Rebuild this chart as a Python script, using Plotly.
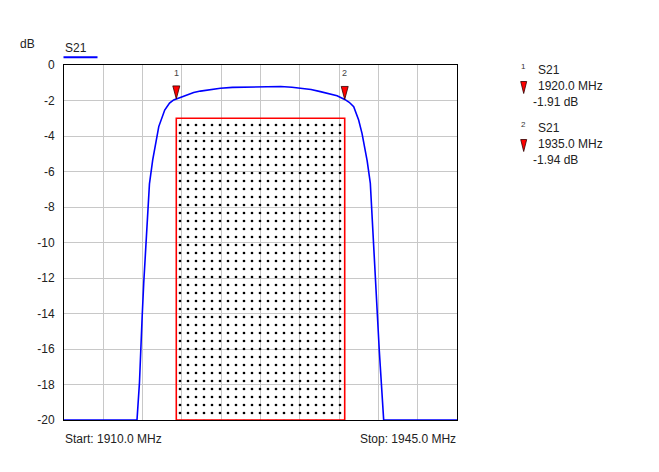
import plotly.graph_objects as go

# ---------------- data ----------------
freq_mhz = [1910.0, 1916.5, 1916.72, 1916.81, 1916.96, 1917.1, 1917.25, 1917.43, 1917.61,
            1917.9, 1918.14, 1918.44, 1918.97, 1919.4, 1919.77, 1920.0, 1920.37, 1921.0,
            1921.55, 1922.15, 1923.0, 1923.93, 1925.0, 1926.5, 1927.5, 1929.3, 1930.3,
            1931.05, 1932.0, 1932.83, 1933.6, 1934.32, 1935.0, 1935.4, 1935.8, 1936.24,
            1936.54, 1936.84, 1937.0, 1937.28, 1937.43, 1937.58, 1937.79, 1937.93, 1938.08,
            1938.26, 1938.47, 1945.0]
s21_db = [-20.0, -20.0, -17.9, -16.1, -14.2, -12.3, -10.4, -8.55, -6.7,
          -5.35, -4.4, -3.47, -2.54, -2.15, -1.97, -1.91, -1.84, -1.65,
          -1.55, -1.47, -1.38, -1.31, -1.26, -1.23, -1.21, -1.21, -1.25,
          -1.3, -1.38, -1.5, -1.6, -1.73, -1.94, -2.1, -2.35, -3.1,
          -3.85, -4.79, -5.4, -6.66, -8.55, -10.4, -12.3, -14.2, -16.1,
          -17.9, -20.0, -20.0]

marker_ids = ["1", "2"]
marker_freq = [1920.0, 1935.0]
marker_db = [-1.91, -1.94]

mask_freq = [1920.0, 1935.0]
mask_db = [-20.0, -3.0]

f_start, f_stop = 1910.0, 1945.0
f_div = 3.5
y_ticks = [0, -2, -4, -6, -8, -10, -12, -14, -16, -18, -20]
y_tick_labels = [str(v) for v in y_ticks]
trace_name = "S21"

# ---------------- layout geometry ----------------
W, H = 659, 472
L, R, T, B = 64, 202, 65, 52
PW, PH = W - L - R, H - T - B


def px(x):
    return (x - L) / PW


def py(y):
    return (H - B - y) / PH


FONT = "Liberation Sans, Arial, sans-serif"
RED = "#ff0000"
BLUE = "#0000ff"

fig = go.Figure()

# mask rectangle with dotted fill
fig.add_trace(go.Scatter(
    x=[mask_freq[0], mask_freq[0], mask_freq[1], mask_freq[1], mask_freq[0]],
    y=[mask_db[0], mask_db[1], mask_db[1], mask_db[0], mask_db[0]],
    mode="lines", fill="toself",
    fillcolor="rgba(0,0,0,0)",
    fillpattern=dict(shape=".", size=8, solidity=0.09, fgcolor="black", fgopacity=1,
                     bgcolor="rgba(0,0,0,0)", fillmode="overlay"),
    line=dict(color=RED, width=1.6),
    hoverinfo="skip", showlegend=False,
))

# S21 trace
fig.add_trace(go.Scatter(
    x=freq_mhz, y=s21_db, mode="lines",
    line=dict(color=BLUE, width=1.6),
    name=trace_name, showlegend=False,
))

shapes = []
annotations = []

# markers on trace (triangles with tip at the point)
for mid, mf, md in zip(marker_ids, marker_freq, marker_db):
    shapes.append(dict(
        type="path", xref="x", yref="y",
        xsizemode="pixel", ysizemode="pixel",
        xanchor=mf, yanchor=md,
        path="M -3.5 13 L 3.5 13 L 0 0 Z",
        fillcolor=RED, line=dict(color="#300000", width=0.8), layer="above",
    ))
    annotations.append(dict(
        x=mf, y=md, xref="x", yref="y", text=mid, showarrow=False,
        yshift=26, xshift=0, font=dict(family=FONT, size=9, color="#444"),
    ))

# readout block on the right
block_y = [66, 124]
for i, (mid, mf, md) in enumerate(zip(marker_ids, marker_freq, marker_db)):
    y0 = block_y[i]
    annotations.append(dict(x=px(523.5), y=py(y0), xref="paper", yref="paper",
                            text=mid, showarrow=False, xanchor="center", yanchor="middle",
                            font=dict(family=FONT, size=8, color="#333")))
    annotations.append(dict(x=px(536), y=py(y0 + 4), xref="paper", yref="paper",
                            text=trace_name, showarrow=False, xanchor="left", yanchor="middle",
                            font=dict(family=FONT, size=12, color="#222")))
    annotations.append(dict(x=px(536), y=py(y0 + 20), xref="paper", yref="paper",
                            text=f"{mf:.1f} MHz", showarrow=False, xanchor="left", yanchor="middle",
                            font=dict(family=FONT, size=12, color="#222")))
    annotations.append(dict(x=px(531), y=py(y0 + 36), xref="paper", yref="paper",
                            text=f"{md:.2f} dB", showarrow=False, xanchor="left", yanchor="middle",
                            font=dict(family=FONT, size=12, color="#222")))
    tx, ty_top, ty_bot = 523.7, y0 + 15.5, y0 + 27.5
    shapes.append(dict(
        type="path", xref="paper", yref="paper",
        path=(f"M {px(tx-3):.5f} {py(ty_top):.5f} L {px(tx+3):.5f} {py(ty_top):.5f} "
              f"L {px(tx):.5f} {py(ty_bot):.5f} Z"),
        fillcolor=RED, line=dict(color="#300000", width=0.8),
    ))

# axis unit and legend
annotations.append(dict(x=px(27), y=py(43.5), xref="paper", yref="paper", text="dB",
                        showarrow=False, xanchor="center", yanchor="middle",
                        font=dict(family=FONT, size=12, color="#222")))
annotations.append(dict(x=px(63), y=py(47.5), xref="paper", yref="paper", text=trace_name,
                        showarrow=False, xanchor="left", yanchor="middle",
                        font=dict(family=FONT, size=12, color="#222")))
shapes.append(dict(type="line", xref="paper", yref="paper",
                   x0=px(63.5), x1=px(97.5), y0=py(57.3), y1=py(57.3),
                   line=dict(color=BLUE, width=2)))

# start / stop labels
annotations.append(dict(x=0, y=py(439), xref="paper", yref="paper",
                        text=f"Start: {f_start:.1f} MHz", showarrow=False,
                        xanchor="left", yanchor="middle", xshift=-1,
                        font=dict(family=FONT, size=12, color="#222")))
annotations.append(dict(x=1, y=py(439), xref="paper", yref="paper",
                        text=f"Stop: {f_stop:.1f} MHz", showarrow=False,
                        xanchor="right", yanchor="middle", xshift=1,
                        font=dict(family=FONT, size=12, color="#222")))

fig.update_layout(
    width=W, height=H,
    margin=dict(l=L, r=R, t=T, b=B, pad=0),
    paper_bgcolor="white", plot_bgcolor="white",
    font=dict(family=FONT, size=12, color="#222"),
    shapes=shapes, annotations=annotations,
    showlegend=False,
)
fig.update_xaxes(
    range=[f_start, f_stop], tick0=f_start, dtick=f_div, tickmode="linear",
    showticklabels=False, ticks="",
    showgrid=True, gridcolor="#c8c8c8", gridwidth=1,
    showline=True, linecolor="black", linewidth=1, mirror=True, zeroline=False,
)
fig.update_yaxes(
    range=[y_ticks[-1], y_ticks[0]], tickmode="array",
    tickvals=y_ticks, ticktext=y_tick_labels, ticks="",
    ticklabelstandoff=6,
    tickfont=dict(family=FONT, size=12, color="#222"),
    showgrid=True, gridcolor="#c8c8c8", gridwidth=1,
    showline=True, linecolor="black", linewidth=1, mirror=True, zeroline=False,
)

post = "document.body.style.margin='0';document.body.style.overflow='hidden';"
fig.write_html("out.html", config={"displayModeBar": False}, post_script=post)
